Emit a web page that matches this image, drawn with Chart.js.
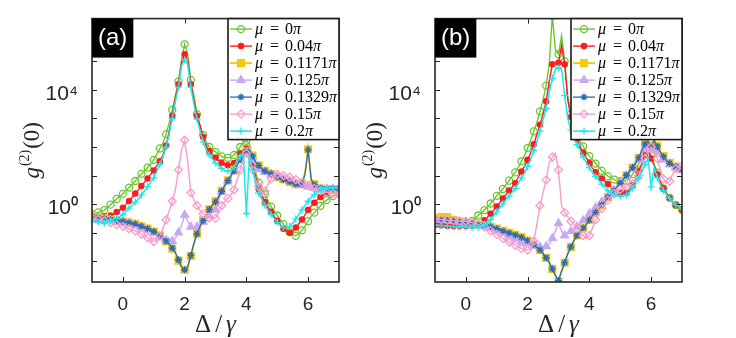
<!DOCTYPE html>
<html>
<head>
<meta charset="utf-8">
<script src="https://cdn.jsdelivr.net/npm/chart.js@4.4.1/dist/chart.umd.min.js"></script>
<style>
  body { margin: 0; background: #fff; }
  #wrap { position: relative; width: 736px; height: 338px; }
  canvas { position: absolute; top: 0; }
  #chartA { left: 0; width: 370px; height: 338px; }
  #chartB { left: 342px; width: 394px; height: 338px; }
</style>
</head>
<body>
<div id="wrap">
  <canvas id="chartA" width="370" height="338"></canvas>
  <canvas id="chartB" width="394" height="338"></canvas>
</div>
<script>
// detuning grid Δ/γ
const deltaOverGamma = [
  -1.0,-0.9,-0.8,-0.7,-0.6,-0.5,-0.4,-0.3,-0.2,-0.1,
  0.0,0.1,0.2,0.3,0.4,0.5,0.6,0.7,0.8,0.9,
  1.0,1.1,1.2,1.3,1.4,1.5,1.6,1.7,1.8,1.9,
  2.0,2.1,2.2,2.3,2.4,2.5,2.6,2.7,2.8,2.9,
  3.0,3.1,3.2,3.3,3.4,3.5,3.6,3.7,3.8,3.9,
  4.0,4.1,4.2,4.3,4.4,4.5,4.6,4.7,4.8,4.9,
  5.0,5.1,5.2,5.3,5.4,5.5,5.6,5.7,5.8,5.9,
  6.0,6.1,6.2,6.3,6.4,6.5,6.6,6.7,6.8,6.9,
  7.0
];

const muLabels = ['0', '0.04', '0.1171', '0.125', '0.1329', '0.15', '0.2'];

// panel (a): log10 of g2(0)
const a_mu0 = [
  -0.35,-0.32,-0.29,-0.25,-0.21,-0.12,-0.02,0.09,0.18,0.27,
  0.36,0.47,0.58,0.69,0.81,0.94,1.06,1.16,1.28,1.41,
  1.55,1.75,1.95,2.15,2.45,2.85,3.3,3.8,4.3,5.05,
  5.6,5.25,4.35,3.8,3.15,2.72,2.42,2.17,2.0,1.9,
  1.83,1.75,1.67,1.62,1.62,1.64,1.72,1.85,2.0,2.18,
  2.22,2.1,1.6,1.1,0.75,0.55,0.35,0.12,-0.09,-0.25,
  -0.4,-0.55,-0.7,-0.85,-0.98,-1.06,-1.11,-1.05,-0.92,-0.76,
  -0.6,-0.43,-0.3,-0.18,-0.06,0.06,0.14,0.21,0.28,0.34,
  0.4
];
const a_mu004 = [
  -0.44,-0.44,-0.44,-0.44,-0.43,-0.42,-0.4,-0.35,-0.28,-0.2,
  -0.13,-0.01,0.11,0.24,0.37,0.5,0.63,0.77,0.9,1.04,
  1.18,1.35,1.5,1.72,2.05,2.55,3.1,3.72,4.2,4.95,
  5.25,5.05,4.2,3.67,3.1,2.76,2.35,2.05,1.85,1.72,
  1.62,1.52,1.44,1.38,1.36,1.37,1.44,1.6,1.76,1.9,
  1.95,1.88,1.4,0.95,0.52,0.28,0.07,-0.1,-0.27,-0.44,
  -0.58,-0.72,-0.86,-0.96,-1.0,-0.95,-0.82,-0.68,-0.54,-0.38,
  -0.2,-0.07,0.05,0.16,0.25,0.32,0.38,0.43,0.46,0.48,
  0.5
];
const a_mu01171 = [
  -0.42,-0.44,-0.47,-0.49,-0.5,-0.52,-0.54,-0.56,-0.58,-0.6,
  -0.61,-0.63,-0.65,-0.67,-0.7,-0.74,-0.78,-0.82,-0.86,-0.91,
  -0.96,-1.02,-1.1,-1.2,-1.3,-1.42,-1.56,-1.72,-1.98,-2.22,
  -2.3,-2.22,-1.82,-1.38,-1.04,-0.78,-0.57,-0.36,-0.18,-0.03,
  0.1,0.27,0.47,0.66,0.83,1.0,1.18,1.37,1.57,1.77,
  1.86,1.9,1.7,1.5,1.36,1.25,1.17,1.11,1.06,1.01,
  0.95,0.9,0.86,0.82,0.78,0.74,0.7,0.66,0.72,1.1,
  1.92,0.88,0.7,0.6,0.55,0.53,0.53,0.53,0.53,0.53,
  0.53
];
const a_mu0125 = [
  -0.49,-0.5,-0.52,-0.54,-0.55,-0.56,-0.57,-0.58,-0.59,-0.6,
  -0.62,-0.64,-0.66,-0.69,-0.72,-0.76,-0.8,-0.85,-0.9,-0.96,
  -1.02,-1.1,-1.17,-1.22,-1.26,-1.3,-1.3,-1.2,-1.0,-0.75,
  -0.38,-0.6,-0.8,-0.9,-0.8,-0.72,-0.62,-0.5,-0.4,-0.3,
  -0.2,0.15,0.42,0.64,0.8,0.98,1.15,1.35,1.55,1.72,
  1.8,1.75,1.55,1.35,1.22,1.15,1.12,1.1,1.06,1.01,
  0.96,0.92,0.88,0.84,0.8,0.76,0.72,0.68,0.66,0.63,
  0.6,0.58,0.56,0.55,0.54,0.53,0.53,0.53,0.53,0.53,
  0.53
];
const a_mu01329 = [
  -0.44,-0.46,-0.48,-0.5,-0.51,-0.53,-0.55,-0.56,-0.58,-0.6,
  -0.61,-0.63,-0.65,-0.67,-0.7,-0.74,-0.78,-0.82,-0.86,-0.91,
  -0.96,-1.02,-1.1,-1.2,-1.3,-1.4,-1.54,-1.7,-1.95,-2.2,
  -2.3,-2.2,-1.8,-1.38,-1.04,-0.78,-0.58,-0.37,-0.19,-0.04,
  0.08,0.25,0.45,0.65,0.82,0.99,1.17,1.36,1.56,1.76,
  1.85,1.89,1.68,1.48,1.35,1.24,1.16,1.1,1.06,1.01,
  0.95,0.9,0.86,0.82,0.78,0.74,0.7,0.66,0.7,1.05,
  1.9,0.85,0.68,0.59,0.55,0.53,0.53,0.53,0.53,0.53,
  0.53
];
const a_mu015 = [
  -0.5,-0.52,-0.54,-0.56,-0.59,-0.62,-0.65,-0.68,-0.72,-0.75,
  -0.78,-0.82,-0.86,-0.9,-0.94,-0.98,-1.05,-1.12,-1.18,-1.26,
  -1.31,-1.28,-1.12,-0.85,-0.55,-0.24,0.1,0.5,1.2,1.9,
  2.24,1.5,0.4,0.15,-0.05,-0.22,-0.34,-0.43,-0.48,-0.5,
  -0.5,-0.3,-0.05,0.1,0.2,0.32,0.5,0.85,1.2,1.6,
  1.78,1.55,1.2,0.85,0.62,0.3,0.45,0.7,0.88,1.0,
  1.05,1.05,1.0,0.97,0.94,0.9,0.86,0.82,0.76,0.71,
  0.66,0.6,0.55,0.5,0.47,0.44,0.41,0.39,0.37,0.35,
  0.33
];
const a_mu02 = [
  -0.6,-0.62,-0.64,-0.66,-0.66,-0.64,-0.6,-0.55,-0.49,-0.43,
  -0.36,-0.25,-0.14,-0.04,0.07,0.18,0.32,0.46,0.61,0.76,
  0.92,1.15,1.4,1.65,2.0,2.45,3.0,3.6,4.1,4.85,
  5.06,4.9,4.1,3.5,2.98,2.56,2.18,1.92,1.72,1.58,
  1.44,1.34,1.25,1.18,1.16,1.17,1.28,1.48,1.66,1.78,
  -0.33,1.7,1.2,0.72,0.38,0.17,-0.04,-0.21,-0.36,-0.5,
  -0.64,-0.75,-0.82,-0.83,-0.78,-0.66,-0.52,-0.37,-0.2,-0.05,
  0.1,0.23,0.33,0.43,0.5,0.55,0.56,0.56,0.56,0.56,
  0.56
];

// panel (b): log10 of g2(0)
const b_mu0 = [
  -0.67,-0.68,-0.69,-0.7,-0.71,-0.72,-0.72,-0.72,-0.72,-0.72,
  -0.7,-0.65,-0.59,-0.5,-0.4,-0.31,-0.21,-0.1,0.02,0.15,
  0.29,0.41,0.53,0.68,0.82,0.96,1.11,1.29,1.5,1.7,
  1.97,2.25,2.55,2.85,3.25,3.65,4.15,4.9,6.6,5.4,
  5.25,5.9,5.0,3.8,3.15,2.72,2.42,2.2,2.02,1.83,
  1.68,1.56,1.42,1.3,1.17,1.07,0.98,0.92,0.86,0.82,
  0.8,0.8,0.82,0.9,1.05,1.22,1.42,1.68,1.9,2.02,
  1.7,1.4,1.1,0.8,0.55,0.38,0.22,0.06,-0.03,-0.12,
  -0.2
];
const b_mu004 = [
  -0.72,-0.73,-0.74,-0.75,-0.76,-0.76,-0.77,-0.77,-0.77,-0.77,
  -0.77,-0.77,-0.76,-0.74,-0.7,-0.64,-0.57,-0.46,-0.34,-0.21,
  -0.08,0.06,0.2,0.34,0.48,0.6,0.73,0.95,1.14,1.32,
  1.55,1.8,2.1,2.45,2.78,3.15,3.6,4.3,4.9,4.95,
  4.95,5.56,4.9,3.65,3.05,2.56,2.28,2.02,1.8,1.62,
  1.44,1.26,1.12,1.0,0.9,0.8,0.7,0.6,0.5,0.44,
  0.41,0.39,0.4,0.48,0.66,0.89,1.15,1.44,1.7,1.92,
  1.6,1.35,1.05,0.78,0.55,0.37,0.21,0.06,-0.04,-0.12,
  -0.2
];
const b_mu01171 = [
  -0.5,-0.48,-0.45,-0.42,-0.45,-0.5,-0.55,-0.58,-0.61,-0.64,
  -0.66,-0.68,-0.69,-0.7,-0.72,-0.73,-0.74,-0.76,-0.79,-0.83,
  -0.86,-0.9,-0.94,-0.98,-1.01,-1.05,-1.08,-1.11,-1.16,-1.22,
  -1.28,-1.34,-1.42,-1.52,-1.61,-1.74,-1.88,-2.05,-2.27,-2.5,
  -2.72,-2.35,-2.05,-1.74,-1.5,-1.28,-1.1,-0.96,-0.84,-0.72,
  -0.56,-0.4,-0.29,-0.16,-0.03,0.1,0.24,0.34,0.47,0.6,
  0.73,0.86,1.01,1.15,1.28,1.45,1.62,1.88,2.1,2.22,
  2.05,2.25,2.04,1.84,1.68,1.54,1.45,1.38,1.32,1.27,
  1.22
];
const b_mu0125 = [
  -0.56,-0.56,-0.56,-0.56,-0.57,-0.58,-0.59,-0.6,-0.62,-0.64,
  -0.66,-0.68,-0.7,-0.72,-0.74,-0.76,-0.78,-0.81,-0.84,-0.88,
  -0.92,-0.95,-1.0,-1.05,-1.1,-1.15,-1.2,-1.26,-1.32,-1.38,
  -1.38,-1.42,-1.46,-1.5,-1.5,-1.5,-1.48,-1.4,-1.2,-0.95,
  -0.67,-0.95,-1.1,-1.0,-0.95,-0.89,-0.8,-0.7,-0.58,-0.45,
  -0.33,-0.22,-0.12,-0.02,0.08,0.18,0.28,0.38,0.48,0.6,
  0.72,0.85,0.98,1.12,1.25,1.4,1.55,1.75,1.95,2.05,
  1.9,2.0,1.85,1.68,1.55,1.45,1.38,1.32,1.28,1.24,
  1.2
];
const b_mu01329 = [
  -0.55,-0.55,-0.54,-0.54,-0.55,-0.56,-0.58,-0.6,-0.62,-0.64,
  -0.66,-0.68,-0.69,-0.7,-0.72,-0.73,-0.74,-0.76,-0.79,-0.83,
  -0.86,-0.9,-0.94,-0.98,-1.01,-1.05,-1.08,-1.11,-1.16,-1.22,
  -1.28,-1.34,-1.42,-1.52,-1.61,-1.74,-1.88,-2.05,-2.27,-2.5,
  -2.68,-2.35,-2.05,-1.74,-1.5,-1.28,-1.1,-0.96,-0.84,-0.72,
  -0.56,-0.4,-0.29,-0.16,-0.03,0.1,0.24,0.34,0.47,0.6,
  0.73,0.86,1.01,1.15,1.28,1.45,1.62,1.88,2.1,2.2,
  2.0,2.22,2.02,1.82,1.66,1.52,1.43,1.37,1.31,1.26,
  1.21
];
const b_mu015 = [
  -0.5,-0.52,-0.54,-0.55,-0.56,-0.57,-0.58,-0.59,-0.6,-0.6,
  -0.6,-0.62,-0.65,-0.68,-0.72,-0.76,-0.8,-0.86,-0.93,-1.0,
  -1.06,-1.11,-1.2,-1.27,-1.33,-1.38,-1.44,-1.5,-1.56,-1.59,
  -1.61,-1.55,-1.3,-0.7,-0.05,0.4,0.85,1.45,1.65,1.78,
  1.2,-0.06,-0.3,-0.45,-0.6,-0.72,-0.85,-0.98,-1.1,-1.2,
  -1.1,-0.85,-0.55,-0.35,-0.16,0.0,0.14,0.27,0.37,0.45,
  0.51,0.57,0.62,0.66,0.72,0.83,1.0,1.3,1.6,1.85,
  2.0,1.9,1.6,1.2,0.88,0.72,0.8,1.05,1.24,1.3,
  1.33
];
const b_mu02 = [
  -0.73,-0.74,-0.75,-0.76,-0.77,-0.78,-0.79,-0.8,-0.8,-0.8,
  -0.8,-0.81,-0.82,-0.82,-0.81,-0.79,-0.74,-0.65,-0.54,-0.41,
  -0.27,-0.13,0.01,0.15,0.28,0.41,0.54,0.74,0.92,1.09,
  1.32,1.58,1.88,2.2,2.56,2.95,3.35,3.92,4.4,4.72,
  4.78,4.72,3.8,3.0,2.6,2.28,2.08,1.88,1.65,1.45,
  1.28,1.11,0.97,0.84,0.7,0.58,0.47,0.39,0.33,0.29,
  0.28,0.28,0.32,0.42,0.56,0.73,0.9,1.13,1.38,1.62,
  0.6,1.3,0.92,0.68,0.48,0.33,0.2,0.06,-0.03,-0.1,
  -0.18
];

// look of each series (same order as muLabels)
const seriesColor = ['#6cc72f', '#ff1c1c', '#f8c80c', '#c9a8f3', '#2a6db3', '#f79ccb', '#1de6ef'];
const seriesFill = ['rgba(0,0,0,0)', '#ff1c1c', '#f8c80c', '#c9a8f3', '#2a6db3', 'rgba(0,0,0,0)', '#1de6ef'];
const seriesPoint = ['circle', 'circle', 'rect', 'triangle', 'star', 'rectRot', 'cross'];
const seriesRadius = [3.5, 2.6, 4.8, 4.5, 3.5, 4, 3.5];
const seriesWidth = [1.4, 1.4, 1.9, 1.4, 1.3, 1.4, 1.5];

const axisColor = '#262626';

function buildDatasets(seriesList) {
    return seriesList.map(function (vals, i) {
        return {
            label: 'μ = ' + muLabels[i] + 'π',
            data: deltaOverGamma.map(function (x, k) { return { x: x, y: Math.pow(10, vals[k]) }; }),
            borderColor: seriesColor[i],
            backgroundColor: seriesFill[i],
            borderWidth: seriesWidth[i],
            pointStyle: seriesPoint[i],
            pointRadius: function (c) { return c.dataIndex % 2 === 0 ? seriesRadius[i] : 0; },
            pointBorderColor: seriesColor[i],
            pointBackgroundColor: seriesFill[i],
            pointBorderWidth: 1.3,
            tension: 0,
            order: seriesList.length - i
        };
    });
}

function drawLegend(ctx, left, top, right) {
    var h = 121;
    ctx.fillStyle = '#fff';
    ctx.fillRect(left, top, right - left, h);
    ctx.strokeStyle = '#1a1a1a';
    ctx.lineWidth = 1.6;
    ctx.strokeRect(left, top, right - left, h);
    muLabels.forEach(function (lab, i) {
        var cy = top + 10.5 + 17 * i;
        ctx.strokeStyle = seriesColor[i];
        ctx.lineWidth = seriesWidth[i];
        ctx.beginPath();
        ctx.moveTo(left + 2, cy);
        ctx.lineTo(left + 24, cy);
        ctx.stroke();
        ctx.fillStyle = seriesFill[i];
        ctx.lineWidth = 1.3;
        Chart.helpers.drawPoint(ctx, { pointStyle: seriesPoint[i], radius: seriesRadius[i], borderWidth: 1.3, rotation: 0 }, left + 13, cy);
        // μ = value π
        var base = cy + 5;
        ctx.fillStyle = '#000';
        ctx.textBaseline = 'alphabetic';
        ctx.textAlign = 'left';
        ctx.font = 'italic 16px "Liberation Serif"';
        ctx.fillText('μ', left + 27, base);
        ctx.font = '16px "Liberation Serif"';
        ctx.fillText('=', left + 42, base);
        ctx.fillText(lab, left + 57, base);
        var w = ctx.measureText(lab).width;
        ctx.font = 'italic 16px "Liberation Serif"';
        ctx.fillText('π', left + 57 + w, base);
    });
}

function decoPlugin(tag) {
    return {
        id: 'decoPlugin',
        afterDraw: function (chart) {
            var ctx = chart.ctx, a = chart.chartArea;
            var xs = chart.scales.x, ys = chart.scales.y;
            ctx.save();
            // inward ticks on all four sides
            ctx.strokeStyle = axisColor;
            ctx.lineWidth = 1;
            ctx.beginPath();
            ys.ticks.forEach(function (t) {
                var py = Math.round(ys.getPixelForValue(t.value)) + 0.5;
                ctx.moveTo(a.left, py); ctx.lineTo(a.left + 5, py);
                ctx.moveTo(a.right, py); ctx.lineTo(a.right - 5, py);
            });
            xs.ticks.forEach(function (t) {
                var px = Math.round(xs.getPixelForValue(t.value)) + 0.5;
                ctx.moveTo(px, a.bottom); ctx.lineTo(px, a.bottom - 5);
                ctx.moveTo(px, a.top); ctx.lineTo(px, a.top + 5);
            });
            ctx.stroke();
            ctx.lineWidth = 1.6;
            ctx.strokeRect(a.left, a.top, a.right - a.left, a.bottom - a.top);

            // panel tag
            ctx.font = '24px "Liberation Sans"';
            var tw = ctx.measureText(tag).width;
            ctx.fillStyle = '#000';
            ctx.fillRect(a.left, a.top, tw + 12, 39);
            ctx.fillStyle = '#fff';
            ctx.textAlign = 'center';
            ctx.textBaseline = 'middle';
            ctx.fillText(tag, a.left + (tw + 12) / 2, a.top + 20);

            drawLegend(ctx, a.right - 111, a.top, a.right);

            // x title Δ/γ
            ctx.fillStyle = axisColor;
            ctx.textAlign = 'left';
            ctx.textBaseline = 'alphabetic';
            var cx = (a.left + a.right) / 2;
            ctx.font = '25px "Liberation Serif"';
            var wD = ctx.measureText('Δ').width, wS = ctx.measureText('/').width;
            ctx.font = 'italic 25px "Liberation Serif"';
            var wG = ctx.measureText('γ').width;
            var total = wD + wS + wG + 8;
            var x0 = cx - total / 2, by = 332;
            ctx.font = '25px "Liberation Serif"';
            ctx.fillText('Δ', x0, by);
            ctx.fillText('/', x0 + wD + 4, by);
            ctx.font = 'italic 25px "Liberation Serif"';
            ctx.fillText('γ', x0 + wD + wS + 8, by);

            // y title g(2)(0)
            ctx.save();
            ctx.translate(a.left - 53, (a.top + a.bottom) / 2);
            ctx.rotate(-Math.PI / 2);
            ctx.font = 'italic 23px "Liberation Serif"';
            var wg = ctx.measureText('g').width;
            ctx.font = '14px "Liberation Serif"';
            var w2 = ctx.measureText('(2)').width;
            ctx.font = '23px "Liberation Serif"';
            var w0 = ctx.measureText('(0)').width;
            var s = -(wg + w2 + w0 + 2) / 2;
            ctx.font = 'italic 23px "Liberation Serif"';
            ctx.fillText('g', s, 0);
            ctx.font = '14px "Liberation Serif"';
            ctx.fillText('(2)', s + wg + 1, -10);
            ctx.font = '23px "Liberation Serif"';
            ctx.fillText('(0)', s + wg + w2 + 2, 0);
            ctx.restore();

            ctx.restore();
        }
    };
}

function makePanel(canvasId, seriesList, tag, yWidth, rightPad) {
    var ctx = document.getElementById(canvasId).getContext('2d');
    return new Chart(ctx, {
        type: 'line',
        data: { datasets: buildDatasets(seriesList) },
        options: {
            responsive: false,
            animation: false,
            devicePixelRatio: 1,
            layout: { padding: { left: 0, right: rightPad, top: 5, bottom: 0 } },
            plugins: { legend: { display: false }, tooltip: { enabled: false } },
            scales: {
                x: {
                    type: 'linear',
                    min: -1,
                    max: 7,
                    afterBuildTicks: function (s) { s.ticks = [0, 2, 4, 6].map(function (v) { return { value: v }; }); },
                    afterFit: function (s) { s.height = 56; },
                    grid: { display: false },
                    border: { display: false },
                    ticks: { autoSkip: false, maxRotation: 0, padding: 3, color: axisColor, font: { family: 'Liberation Sans', size: 19 } }
                },
                y: {
                    type: 'logarithmic',
                    min: Math.pow(10, -2.73),
                    max: Math.pow(10, 6.5),
                    afterBuildTicks: function (s) {
                        s.ticks = [-2, -1, 0, 1, 2, 3, 4, 5, 6].map(function (e) { return { value: Math.pow(10, e) }; });
                    },
                    afterFit: function (s) { s.width = yWidth; },
                    grid: { display: false },
                    border: { display: false },
                    ticks: {
                        autoSkip: false,
                        padding: 6,
                        labelOffset: 4,
                        color: axisColor,
                        font: { family: 'Liberation Sans', size: 21 },
                        callback: function (v) {
                            var e = Math.round(Math.log10(v));
                            if (e === 4) return '10⁴';
                            if (e === 0) return '10⁰';
                            return '';
                        }
                    }
                }
            }
        },
        plugins: [decoPlugin(tag)]
    });
}

makePanel('chartA', [a_mu0, a_mu004, a_mu01171, a_mu0125, a_mu01329, a_mu015, a_mu02], '(a)', 92, 31);
makePanel('chartB', [b_mu0, b_mu004, b_mu01171, b_mu0125, b_mu01329, b_mu015, b_mu02], '(b)', 93, 54);
</script>
</body>
</html>
